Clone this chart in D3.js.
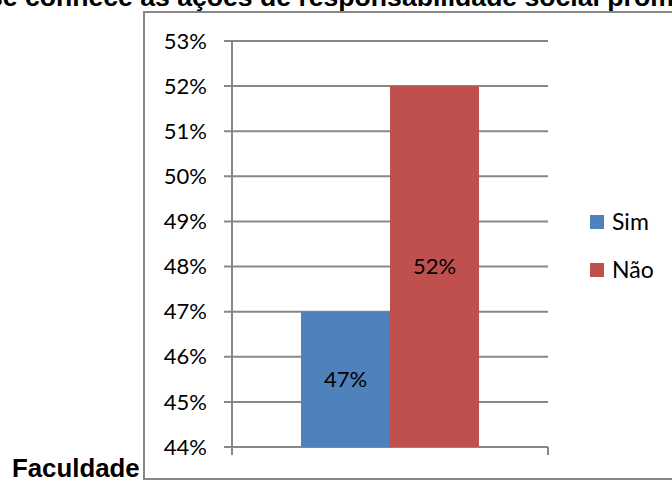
<!DOCTYPE html>
<html>
<head>
<meta charset="utf-8">
<script src="https://cdn.jsdelivr.net/npm/d3@7"></script>
<style>
  html, body { margin: 0; padding: 0; background: #fff; overflow: hidden; }
  svg { display: block; }
</style>
</head>
<body>
<svg id="chart" width="672" height="481"></svg>
<script>
// Answers to the survey question, one series per answer
const categories = ["Faculdade"];
const seriesNames = ["Sim", "Não"];
const seriesValues = [0.47, 0.52];
const seriesColors = ["#4F81BD", "#C0504D"];
const yTicks = [0.44, 0.45, 0.46, 0.47, 0.48, 0.49, 0.50, 0.51, 0.52, 0.53];
const titleText = "se conhece as ações de responsabilidade social promovidas";

const svg = d3.select("#chart");
const labelFont = "Lato, 'Open Sans', sans-serif";
const gridColor = "#878787";

// Page heading (runs off the top of the page)
svg.append("text")
  .attr("x", -12).attr("y", 6)
  .attr("font-family", "'Liberation Sans', Arial, sans-serif")
  .attr("font-weight", "bold").attr("font-size", 26.6)
  .attr("fill", "#000")
  .text(titleText);

// Chart frame
svg.append("path")
  .attr("d", "M144,480 L144,12 L680,12 M144,479 L680,479")
  .attr("fill", "none").attr("stroke", gridColor).attr("stroke-width", 2);

// Text sitting next to the chart
svg.append("text")
  .attr("x", 12).attr("y", 477)
  .attr("font-family", "'Liberation Sans', Arial, sans-serif")
  .attr("font-weight", "bold").attr("font-size", 25.8)
  .attr("fill", "#000")
  .text(categories[0]);

// Plot area
const plot = { left: 232, right: 548, top: 41, bottom: 447 };
const y = d3.scaleLinear().domain([0.44, 0.53]).range([plot.bottom, plot.top]);
const gap = 0.775;
const x = d3.scaleBand().domain(categories)
  .range([plot.left, plot.right]).paddingInner(0).paddingOuter(gap / 2);
const xs = d3.scaleBand().domain(seriesNames).range([0, x.bandwidth()]);
const pct = d3.format(".0%");

// Gridlines with outer tick marks
svg.append("g").selectAll("line").data(yTicks).join("line")
  .attr("x1", plot.left - 8).attr("x2", plot.right)
  .attr("y1", d => y(d)).attr("y2", d => y(d))
  .attr("stroke", gridColor).attr("stroke-width", 2);

// Value axis labels
svg.append("g").selectAll("text").data(yTicks).join("text")
  .attr("x", 207).attr("y", d => y(d))
  .attr("dy", "0.35em").attr("text-anchor", "end")
  .attr("font-family", labelFont).attr("font-size", 22).attr("fill", "#000")
  .text(d => pct(d));

// Bars
const bars = seriesNames.map((s, i) => ({ name: s, value: seriesValues[i], color: seriesColors[i] }));
svg.append("g").selectAll("rect").data(bars).join("rect")
  .attr("x", d => x(categories[0]) + xs(d.name))
  .attr("width", xs.bandwidth())
  .attr("y", d => y(d.value))
  .attr("height", d => y(0.44) - y(d.value))
  .attr("fill", d => d.color);

// Value labels centred in each bar
svg.append("g").selectAll("text").data(bars).join("text")
  .attr("x", d => x(categories[0]) + xs(d.name) + xs.bandwidth() / 2)
  .attr("y", d => (y(d.value) + y(0.44)) / 2)
  .attr("dy", "0.35em").attr("text-anchor", "middle")
  .attr("font-family", labelFont).attr("font-size", 22).attr("fill", "#000")
  .text(d => pct(d.value));

// Axes lines
svg.append("line")
  .attr("x1", plot.left).attr("x2", plot.left)
  .attr("y1", plot.top).attr("y2", plot.bottom + 8)
  .attr("stroke", gridColor).attr("stroke-width", 2);
svg.append("line")
  .attr("x1", plot.right).attr("x2", plot.right)
  .attr("y1", plot.bottom).attr("y2", plot.bottom + 8)
  .attr("stroke", gridColor).attr("stroke-width", 2);

// Legend
const legend = svg.append("g").selectAll("g").data(bars).join("g")
  .attr("transform", (d, i) => `translate(590,${222 + i * 48})`);
legend.append("rect")
  .attr("x", 0).attr("y", -7).attr("width", 14).attr("height", 14)
  .attr("fill", d => d.color);
legend.append("text")
  .attr("x", 22).attr("y", 0).attr("dy", "0.35em")
  .attr("font-family", labelFont).attr("font-size", 23).attr("fill", "#000")
  .text(d => d.name);
</script>
</body>
</html>
